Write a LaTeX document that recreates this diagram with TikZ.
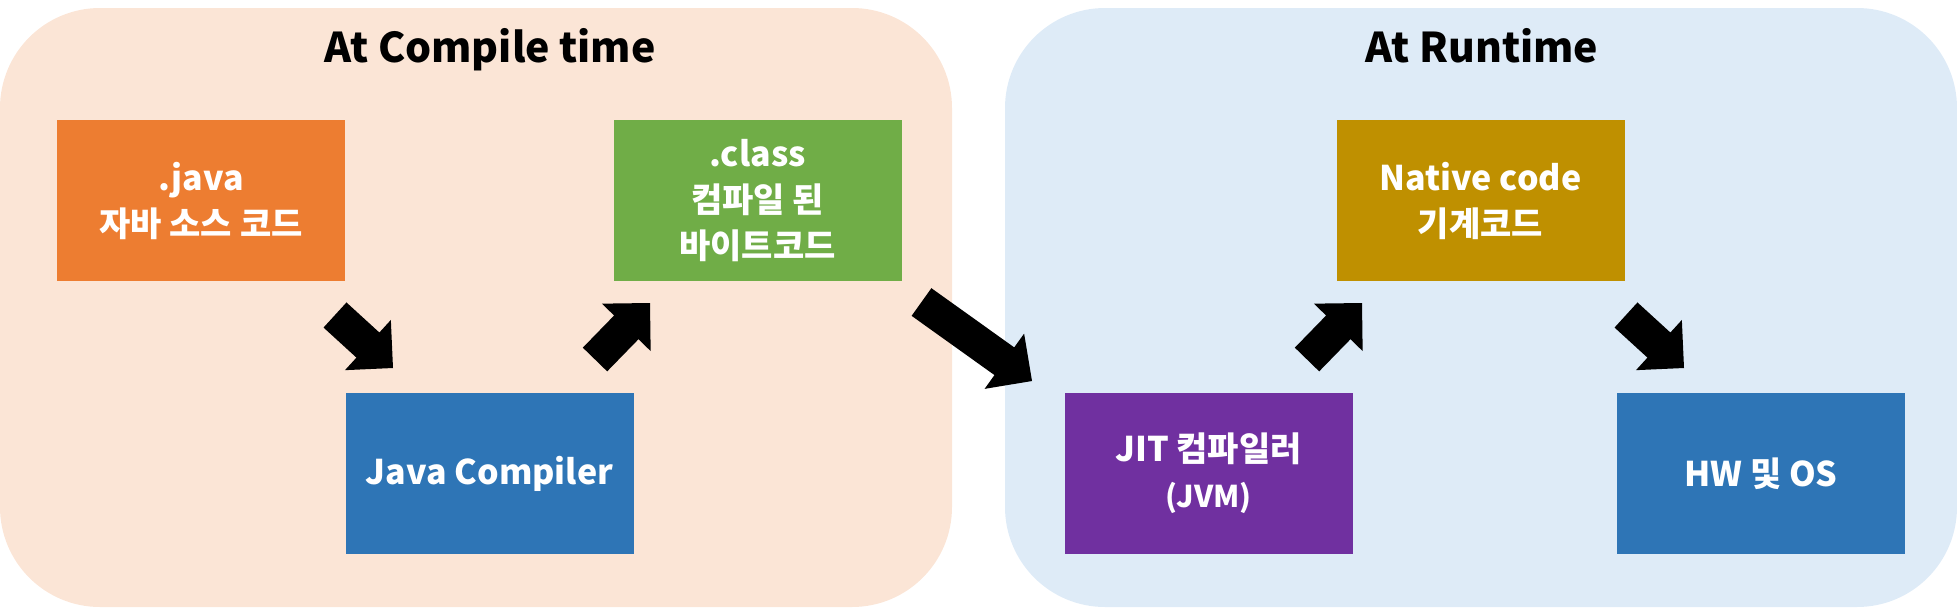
\documentclass[tikz,border=0pt]{standalone}
\usepackage{fontspec}
\setmainfont{Noto Sans CJK KR}
\usepackage{tikz}
\usetikzlibrary{calc,positioning}
\definecolor{compilebg}{RGB}{251,229,214}
\definecolor{runbg}{RGB}{222,235,247}
\definecolor{javaorange}{RGB}{237,125,49}
\definecolor{stepblue}{RGB}{46,117,182}
\definecolor{classgreen}{RGB}{112,173,71}
\definecolor{nativegold}{RGB}{191,144,0}
\definecolor{jitpurple}{RGB}{112,48,160}

% fat arrow from #1 (tail) to #2 (tip)
\newcommand{\blockarrow}[2]{%
  \coordinate (hb) at ($(#2)!34pt!(#1)$);
  \fill[black] ($(#1)!17pt!90:(#2)$) -- ($(hb)!17pt!-90:(#1)$) -- ($(hb)!34pt!-90:(#1)$)
    -- (#2) -- ($(hb)!34pt!90:(#1)$) -- ($(hb)!17pt!90:(#1)$) -- ($(#1)!17pt!-90:(#2)$) -- cycle;}

\begin{document}
\begin{tikzpicture}[x=1pt, y=-1pt]
  \tikzstyle{box}=[rectangle, minimum width=288pt, minimum height=161pt, inner sep=0pt, align=center, text=white, font=\fontsize{34}{46}\selectfont\bfseries]
  \tikzstyle{title}=[anchor=base, font=\fontsize{41}{48}\selectfont\bfseries]
  \useasboundingbox (0,0) rectangle (1957,608);
  % the two stages
  \fill[compilebg, rounded corners=100pt] (0,8) rectangle (952,607);
  \fill[runbg, rounded corners=100pt] (1005,8) rectangle (1957,607);
  \node[title] (ctitle) at (490,62) {At Compile time};
  \node[title] (rtitle) at (1482,62) {At Runtime};
  % boxes
  \node[box, fill=javaorange] (java) at (201,200.5) {.java\\자바 소스 코드};
  \node[box, fill=stepblue] (compiler) at (489.5,473.5) {Java Compiler};
  \node[box, fill=classgreen] (class) at (757.5,200.5) {.class\\컴파일 된\\바이트코드};
  \node[box, fill=jitpurple] (jit) at (1208.5,473.5) {JIT 컴파일러\\{\fontsize{30}{40}\selectfont (JVM)}};
  \node[box, fill=nativegold] (native) at (1480.5,200.5) {Native code\\기계코드};
  \node[box, fill=stepblue] (hw) at (1761,473.5) {HW 및 OS};
  % arrow ends
  \coordinate (a1s) at (335,315);    \coordinate (a1e) at (393,368);
  \coordinate (a2s) at (595,359.5);  \coordinate (a2e) at (650,303);
  \coordinate (a3s) at (921.5,302);  \coordinate (a3e) at (1032,381);
  \coordinate (a4s) at (1307,359.5); \coordinate (a4e) at (1362,303);
  \coordinate (a5s) at (1626,315);   \coordinate (a5e) at (1684,368);
  \blockarrow{a1s}{a1e}
  \blockarrow{a2s}{a2e}
  \blockarrow{a3s}{a3e}
  \blockarrow{a4s}{a4e}
  \blockarrow{a5s}{a5e}
\end{tikzpicture}
\end{document}
